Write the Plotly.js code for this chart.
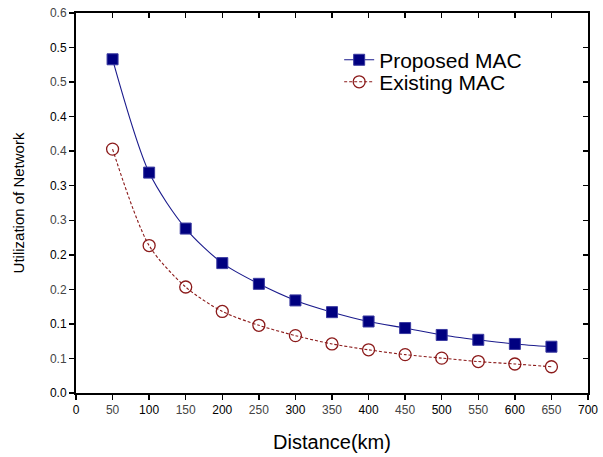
<!DOCTYPE html>
<html>
<head>
<meta charset="utf-8">
<script src="https://cdn.plot.ly/plotly-3.0.1.min.js"></script>
<style>html,body{margin:0;padding:0;background:#fff;}#chart{width:603px;height:457px;}</style>
</head>
<body>
<div id="chart"></div>
<script>
const distance = [50, 100, 150, 200, 250, 300, 350, 400, 450, 500, 550, 600, 650];
const proposedMAC = [0.483, 0.319, 0.238, 0.188, 0.158, 0.134, 0.117, 0.1035, 0.094, 0.084, 0.077, 0.071, 0.067];
const existingMAC = [0.353, 0.2134, 0.1534, 0.118, 0.098, 0.083, 0.071, 0.0625, 0.0555, 0.0505, 0.0455, 0.042, 0.038];
const xTickVals = [0, 50, 100, 150, 200, 250, 300, 350, 400, 450, 500, 550, 600, 650, 700];
const yTickVals = [0, 0.05, 0.1, 0.15, 0.2, 0.25, 0.3, 0.35, 0.4, 0.45, 0.5, 0.55];
const yTickText = ["0.0", "0.1", "0.1", "0.2", "0.2", "0.3", "0.3", "0.4", "0.4", "0.5", "0.5", "0.6"];

const major = (i) => i % 2 === 0;
const xText = xTickVals.map((v, i) => major(i) ? '<span style="color:#000">' + v + '</span>' : '<span style="color:#444">' + v + '</span>');
const yText = yTickText.map((t, i) => major(i) ? '<span style="color:#000">' + t + '</span>' : '<span style="color:#444">' + t + '</span>');

const traces = [
  {
    x: distance, y: proposedMAC, name: 'Proposed MAC', type: 'scatter', mode: 'lines+markers',
    legend: 'legend',
    line: {color: '#1a1a8c', width: 1.1, shape: 'spline', smoothing: 0.8},
    marker: {symbol: 'square', size: 11, color: '#000080', line: {color: '#3a3aa0', width: 1}}
  },
  {
    x: distance, y: existingMAC, name: 'Existing MAC', type: 'scatter', mode: 'lines+markers',
    legend: 'legend2',
    line: {color: '#8b1a1a', width: 1.1, dash: '3px,2px', shape: 'spline', smoothing: 0.8},
    marker: {symbol: 'circle-open', size: 12, color: '#8b1a1a', line: {color: '#8b1a1a', width: 1.3}}
  },
  {
    x: [0], y: [0], xaxis: 'x2', yaxis: 'y2', showlegend: false, hoverinfo: 'skip',
    mode: 'markers', marker: {opacity: 0}
  }
];

const font = {family: 'Liberation Sans, Arial, sans-serif', color: '#000'};
const legendFont = {family: font.family, size: 21, color: '#000'};

const layout = {
  width: 603, height: 457,
  margin: {l: 76, r: 15, t: 13, b: 64},
  paper_bgcolor: '#fff', plot_bgcolor: '#fff',
  font: font,
  showlegend: true,
  legend: {
    x: 0.514, y: 0.876, xanchor: 'left', yanchor: 'middle',
    bgcolor: 'rgba(0,0,0,0)', borderwidth: 0, font: legendFont
  },
  legend2: {
    x: 0.514, y: 0.818, xanchor: 'left', yanchor: 'middle',
    bgcolor: 'rgba(0,0,0,0)', borderwidth: 0, font: legendFont
  },
  xaxis: {
    range: [0, 700], tickmode: 'array', tickvals: xTickVals, ticktext: xText,
    ticks: 'outside', ticklen: 5, tickwidth: 1.5, tickcolor: '#000',
    showline: true, linecolor: '#000', linewidth: 2,
    showgrid: false, zeroline: false,
    tickfont: {family: font.family, size: 12, color: '#000'},
    title: {text: 'Distance(km)', font: {family: font.family, size: 20, color: '#000'}, standoff: 19}
  },
  yaxis: {
    range: [0, 0.55], tickmode: 'array', tickvals: yTickVals, ticktext: yText,
    ticks: 'outside', ticklen: 5, tickwidth: 1.5, tickcolor: '#000',
    showline: true, linecolor: '#000', linewidth: 2,
    showgrid: false, zeroline: false,
    tickfont: {family: font.family, size: 12, color: '#000'},
    title: {text: 'Utilization of Network', font: {family: font.family, size: 15, color: '#000'}, standoff: 22}
  },
  xaxis2: {
    overlaying: 'x', side: 'top', range: [0, 700], tickmode: 'array', tickvals: xTickVals,
    showticklabels: false, ticks: 'inside', ticklen: 5, tickwidth: 1.5, tickcolor: '#000',
    showline: true, linecolor: '#000', linewidth: 2, showgrid: false, zeroline: false
  },
  yaxis2: {
    overlaying: 'y', side: 'right', range: [0, 0.55], tickmode: 'array', tickvals: yTickVals,
    showticklabels: false, ticks: 'inside', ticklen: 5, tickwidth: 1.5, tickcolor: '#000',
    showline: true, linecolor: '#000', linewidth: 2, showgrid: false, zeroline: false
  }
};

Plotly.newPlot('chart', traces, layout, {displayModeBar: false, staticPlot: true});
</script>
</body>
</html>
